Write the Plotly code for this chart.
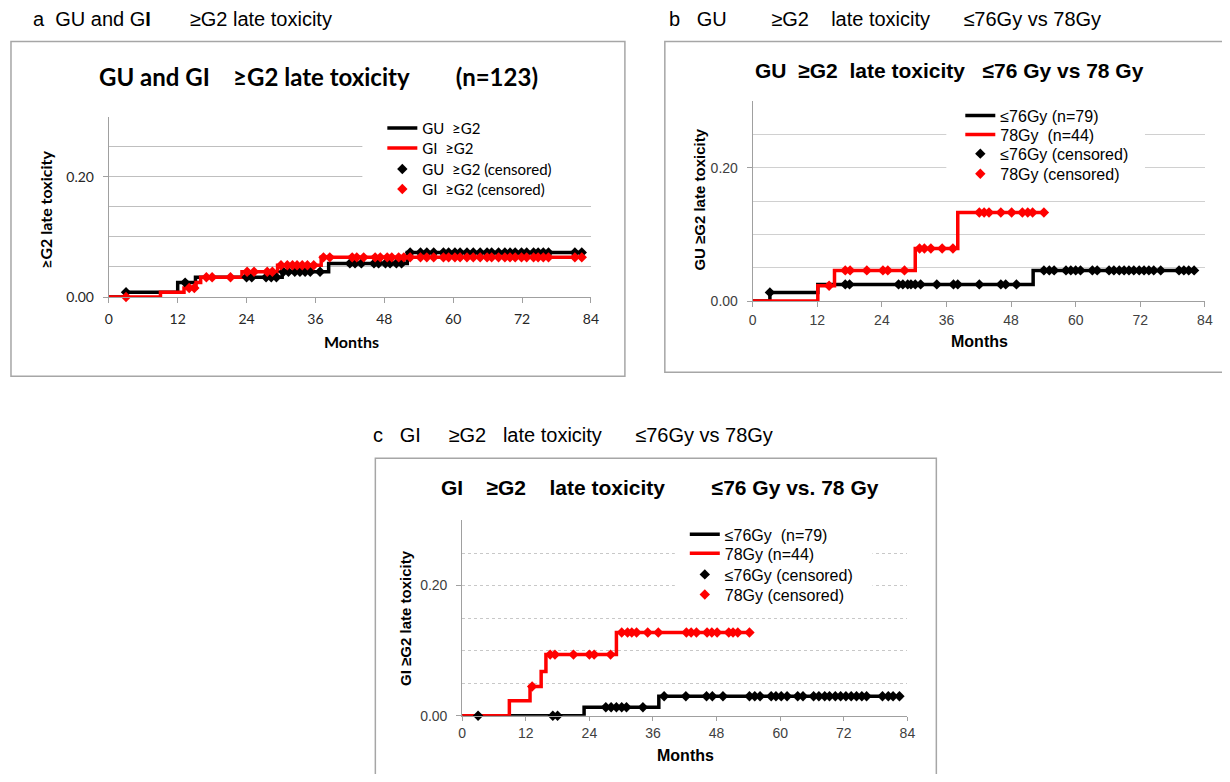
import numpy as np
import plotly.graph_objects as go

W, H = 1230, 782

# ---------------- Panel a: GU and GI (n=123) ----------------
a_gu_t = [0, 3.0, 12.0, 15.1, 30.2, 38.3, 52.0]
a_gu_v = [0, 0.008, 0.024, 0.033, 0.042, 0.056, 0.074]
a_gu_end = 82.4
a_gu_cens = [3.0, 13.3, 24.0, 24.9, 27.4, 28.3, 29.2, 30.4, 31.3, 32.4, 33.3, 34.2, 35.1, 36.8,
             42.0, 42.9, 44.0, 46.2, 47.0, 48.2, 49.0, 50.1, 51.0, 52.5, 54.3, 55.4, 56.6, 58.3,
             59.2, 60.3, 61.2, 62.4, 63.5, 64.7, 65.9, 66.7, 67.9, 69.0, 69.9, 70.8, 71.9, 72.8,
             74.0, 74.8, 75.7, 76.6, 81.2, 82.4]
a_gi_t = [0, 9.0, 13.1, 15.2, 16.0, 23.2, 29.4, 37.0]
a_gi_v = [0, 0.008, 0.015, 0.024, 0.033, 0.042, 0.053, 0.066]
a_gi_end = 82.4
a_gi_cens = [3.0, 14.0, 14.9, 17.0, 18.0, 21.2, 24.1, 25.3, 27.6, 28.5, 30.0, 31.1, 32.0, 32.8,
             33.7, 34.6, 35.7, 37.4, 38.5, 42.4, 43.2, 44.4, 46.4, 47.3, 48.5, 49.3, 50.5, 51.4,
             52.5, 54.3, 55.4, 56.6, 58.3, 59.2, 60.3, 61.2, 62.4, 63.5, 64.7, 65.9, 66.7, 67.9,
             69.0, 69.9, 70.8, 71.9, 72.8, 74.0, 74.8, 75.7, 76.6, 81.2, 82.4]

# ---------------- Panel b: GU <=76Gy vs 78Gy ----------------
b_lo_t = [0, 3.2, 12.1, 52.1]
b_lo_v = [0, 0.013, 0.025, 0.046]
b_lo_end = 82.0
b_lo_cens = [3.2, 17.2, 18.0, 27.1, 27.9, 28.8, 29.4, 30.2, 31.2, 34.2, 37.3, 38.1, 42.1, 46.1,
             47.0, 49.0, 54.1, 55.1, 56.0, 58.2, 59.1, 60.0, 60.9, 63.1, 64.0, 66.2, 67.1, 68.1,
             69.0, 69.9, 70.8, 71.8, 72.7, 73.6, 74.5, 75.8, 79.2, 80.1, 81.0, 82.0]
b_hi_t = [0, 12.1, 15.2, 30.2, 38.1]
b_hi_v = [0, 0.023, 0.046, 0.079, 0.133]
b_hi_end = 54.1
b_hi_cens = [14.2, 17.2, 18.1, 21.2, 24.2, 25.1, 28.2, 31.0, 31.9, 33.1, 35.2, 37.2, 42.1, 43.0,
             43.9, 46.1, 48.1, 50.1, 51.1, 52.0, 54.1]

# ---------------- Panel c: GI <=76Gy vs 78Gy ----------------
c_lo_t = [0, 23.0, 37.1]
c_lo_v = [0, 0.013, 0.030]
c_lo_end = 82.5
c_lo_cens = [3.0, 17.1, 18.0, 27.1, 28.1, 29.1, 30.1, 31.0, 34.1, 38.1, 42.2, 46.1, 47.2, 49.2,
             54.2, 55.2, 56.2, 58.3, 59.2, 60.2, 61.3, 63.3, 64.3, 66.3, 67.3, 68.4, 69.3, 70.4,
             71.4, 72.4, 73.4, 74.4, 75.4, 76.3, 79.3, 80.4, 81.3, 82.5]
c_hi_t = [0, 8.9, 12.8, 14.9, 15.8, 29.1]
c_hi_v = [0, 0.023, 0.045, 0.068, 0.094, 0.128]
c_hi_end = 54.2
c_hi_cens = [13.2, 16.6, 17.5, 21.0, 24.0, 24.9, 28.0, 30.1, 31.2, 32.0, 32.9, 35.0, 37.0, 42.3,
             43.2, 44.2, 46.2, 47.1, 48.1, 50.3, 51.1, 52.0, 54.2]

x_ticks = [0, 12, 24, 36, 48, 60, 72, 84]
y_ticks = [0.0, 0.2]
y_ticktext = ["0.00", "0.20"]


def step_xy(t, v, end):
    return list(t) + [end], list(v) + [v[-1]]


def at(t, v, xs):
    idx = np.searchsorted(np.array(t), np.array(xs), side="right") - 1
    return [v[i] for i in idx]


# layout positions are given in target-picture pixels; the photograph of the
# page comes out slightly scaled, so positions are mapped back through that.
SX, OX = 0.992, 3.0
SY, OY = 0.988, 0.5


def px(x):
    return min(max((x - OX) / SX / W, 0.0), 1.0)


def py(y):
    return min(max(1 - (y - OY) / SY / H, 0.0), 1.0)


NB = "\u00a0"


def sp(n):
    return NB * n


ARIAL = "Liberation Sans, Arial, sans-serif"
NARROW = "Liberation Sans Narrow, Liberation Sans, Arial, sans-serif"
CAL = "Lato, Open Sans, sans-serif"

fig = go.Figure()

BLACK = "#000000"
RED = "#ff0000"

panels = [
    dict(xa="x", ya="y", lx=382, rows=[128, 148, 169, 189], font=CAL, fs=15,
         mask=(362, 592, 122, 200),
         curves=[(a_gu_t, a_gu_v, a_gu_end, a_gu_cens, BLACK, "GU" + sp(2) + "≥G2", "GU" + sp(2) + "≥G2 (censored)"),
                 (a_gi_t, a_gi_v, a_gi_end, a_gi_cens, RED, "GI" + sp(2) + "≥G2", "GI" + sp(2) + "≥G2 (censored)")]),
    dict(xa="x2", ya="y2", lx=961, rows=[115, 134, 153, 173], font=ARIAL, fs=16,
         mask=(947, 1146, 99, 192),
         curves=[(b_lo_t, b_lo_v, b_lo_end, b_lo_cens, BLACK, "≤76Gy (n=79)", "≤76Gy (censored)"),
                 (b_hi_t, b_hi_v, b_hi_end, b_hi_cens, RED, "78Gy" + sp(2) + "(n=44)", "78Gy (censored)")]),
    dict(xa="x3", ya="y3", lx=685, rows=[533, 552, 573, 593], font=ARIAL, fs=16,
         mask=(675, 873, 526, 606),
         curves=[(c_lo_t, c_lo_v, c_lo_end, c_lo_cens, BLACK, "≤76Gy" + sp(2) + "(n=79)", "≤76Gy (censored)"),
                 (c_hi_t, c_hi_v, c_hi_end, c_hi_cens, RED, "78Gy (n=44)", "78Gy (censored)")]),
]

legends = {}
leg_i = 0
LEG_OFF = 16


def new_legend(x, row, family, size):
    global leg_i
    leg_i += 1
    key = "legend" if leg_i == 1 else "legend%d" % leg_i
    legends[key] = dict(x=px(x), y=py(row - LEG_OFF), xanchor="left", yanchor="top",
                        bgcolor="rgba(255,255,255,0)", borderwidth=0,
                        itemclick=False, itemdoubleclick=False,
                        font=dict(family=family, size=size, color="#000"))
    return key


shapes = []
for p in panels:
    r = 0
    mx0, mx1, my0, my1 = p["mask"]
    shapes.append(dict(type="rect", xref="paper", yref="paper", layer="above",
                       x0=px(mx0), x1=px(mx1), y0=py(my1), y1=py(my0),
                       fillcolor="white", line=dict(width=0)))
    for (t, v, end, cens, col, name, cname) in p["curves"]:
        xs, ys = step_xy(t, v, end)
        key = new_legend(p["lx"], p["rows"][r], p["font"], p["fs"])
        r += 1
        fig.add_trace(go.Scatter(x=xs, y=ys, mode="lines", line=dict(color=col, width=3.5, shape="hv"),
                                 name=name, xaxis=p["xa"], yaxis=p["ya"], legend=key,
                                 cliponaxis=False))
    for (t, v, end, cens, col, name, cname) in p["curves"]:
        key = new_legend(p["lx"], p["rows"][r], p["font"], p["fs"])
        r += 1
        fig.add_trace(go.Scatter(x=cens, y=at(t, v, cens), mode="markers",
                                 marker=dict(symbol="diamond", size=8, color=col),
                                 name=cname, xaxis=p["xa"], yaxis=p["ya"], legend=key,
                                 cliponaxis=False))

# axis geometry (pixels)
geo = {
    "": dict(x0=108, x1=591, y0=297, y1=117, grid="#bfbfbf", dash="solid",
             font=CAL, tickcol="#262626", tl=5, so=4),
    "2": dict(x0=753, x1=1206, y0=301, y1=101.5, grid="#d0d0d0", dash="solid",
              font=ARIAL, tickcol="#404040", tl=5, so=1),
    "3": dict(x0=462, x1=908, y0=715, y1=520, grid="#c8c8c8", dash="dot",
              font=ARIAL, tickcol="#404040", tl=4, so=0),
}

layout_axes = {}
for k, g in geo.items():
    layout_axes["xaxis" + k] = dict(
        domain=[px(g["x0"]), px(g["x1"])], anchor="y" + k, range=[0, 84],
        tickvals=x_ticks, ticks="outside", ticklen=g["tl"], tickcolor="#a0a0a0",
        showline=True, linecolor="#a0a0a0", linewidth=1, showgrid=False, zeroline=False,
        tickfont=dict(family=g["font"], size=14, color=g["tickcol"]), ticklabelstandoff=g["so"],
        fixedrange=True)
    layout_axes["yaxis" + k] = dict(
        domain=[py(g["y0"]), py(g["y1"])], anchor="x" + k, range=[0, 0.3001],
        tickvals=y_ticks, ticktext=y_ticktext, ticks="outside", ticklen=5, tickcolor="#a0a0a0",
        showline=True, linecolor="#a0a0a0", linewidth=1,
        showgrid=True, gridcolor=g["grid"], griddash=g["dash"], gridwidth=1, zeroline=False,
        minor=dict(dtick=0.05, tick0=0, showgrid=True, gridcolor=g["grid"], griddash=g["dash"],
                   gridwidth=1, ticks=""),
        tickfont=dict(family=g["font"], size=14, color=g["tickcol"]), ticklabelstandoff=6,
        fixedrange=True)

annotations = [
    # outer panel labels
    dict(x=px(30), y=py(19), text="a" + sp(2) + "GU and G<b>I</b>" + sp(7) + "≥G2 late toxicity",
         font=dict(family=NARROW, size=20, color="#000"), xanchor="left"),
    dict(x=px(667), y=py(19), text="b" + sp(3) + "GU" + sp(8) + "≥G2" + sp(4) + "late toxicity" + sp(6) + "≤76Gy vs 78Gy",
         font=dict(family=ARIAL, size=20, color="#000"), xanchor="left"),
    dict(x=px(371), y=py(435), text="c" + sp(3) + "GI" + sp(5) + "≥G2" + sp(3) + "late toxicity" + sp(6) + "≤76Gy vs 78Gy",
         font=dict(family=ARIAL, size=20, color="#000"), xanchor="left"),
    # chart titles
    dict(x=px(318), y=py(77), text="<b>GU and GI" + sp(4) + "≥G2 late toxicity" + sp(8) + "(n=123)</b>",
         font=dict(family=CAL, size=24, color="#000"), xanchor="center"),
    dict(x=px(950), y=py(71), text="<b>GU" + sp(2) + "≥G2" + sp(2) + "late toxicity" + sp(3) + "≤76 Gy vs 78 Gy</b>",
         font=dict(family=ARIAL, size=21, color="#000"), xanchor="center"),
    dict(x=px(660), y=py(487), text="<b>GI" + sp(4) + "≥G2" + sp(4) + "late toxicity" + sp(8) + "≤76 Gy vs. 78 Gy</b>",
         font=dict(family=ARIAL, size=21, color="#000"), xanchor="center"),
    # x axis titles
    dict(x=px(351), y=py(341), text="<b>Months</b>", font=dict(family=CAL, size=16, color="#000"), xanchor="center"),
    dict(x=px(980), y=py(341), text="<b>Months</b>", font=dict(family=ARIAL, size=16, color="#000"), xanchor="center"),
    dict(x=px(686), y=py(755), text="<b>Months</b>", font=dict(family=ARIAL, size=16, color="#000"), xanchor="center"),
    # y axis titles
    dict(x=px(45), y=py(210), text="<b>≥G2 late toxicity</b>", textangle=-90,
         font=dict(family=CAL, size=16, color="#000"), xanchor="center"),
    dict(x=px(700), y=py(200), text="<b>GU ≥G2 late toxicity</b>", textangle=-90,
         font=dict(family=ARIAL, size=15, color="#000"), xanchor="center"),
    dict(x=px(405), y=py(617), text="<b>GI ≥G2 late toxicity</b>", textangle=-90,
         font=dict(family=ARIAL, size=15, color="#000"), xanchor="center"),
]
for a in annotations:
    a.update(xref="paper", yref="paper", showarrow=False, yanchor="middle")


def ppath(points):
    return "M " + " L ".join("%.5f,%.5f" % (px(x), py(y)) for x, y in points)


BOX = dict(color="#a6a6a6", width=1.5)
shapes += [
    dict(type="rect", xref="paper", yref="paper", x0=px(10), x1=px(625), y0=py(376), y1=py(42), line=BOX),
    dict(type="path", xref="paper", yref="paper", line=BOX,
         path=ppath([(1240, 372), (665, 372), (665, 42), (1240, 42)])),
    dict(type="path", xref="paper", yref="paper", line=BOX,
         path=ppath([(375, 800), (375, 458), (937, 458), (937, 800)])),
]

fig.update_layout(
    width=W, height=H, margin=dict(l=0, r=0, t=0, b=0),
    paper_bgcolor="white", plot_bgcolor="white",
    showlegend=True,
    annotations=annotations, shapes=shapes,
    **legends,
    **layout_axes,
)

fig.write_html("out.html", config={"displayModeBar": False},
               post_script="document.documentElement.style.margin='0px';document.body.style.margin='0px';"
                           "document.documentElement.style.overflow='hidden';document.body.style.overflow='hidden';")
